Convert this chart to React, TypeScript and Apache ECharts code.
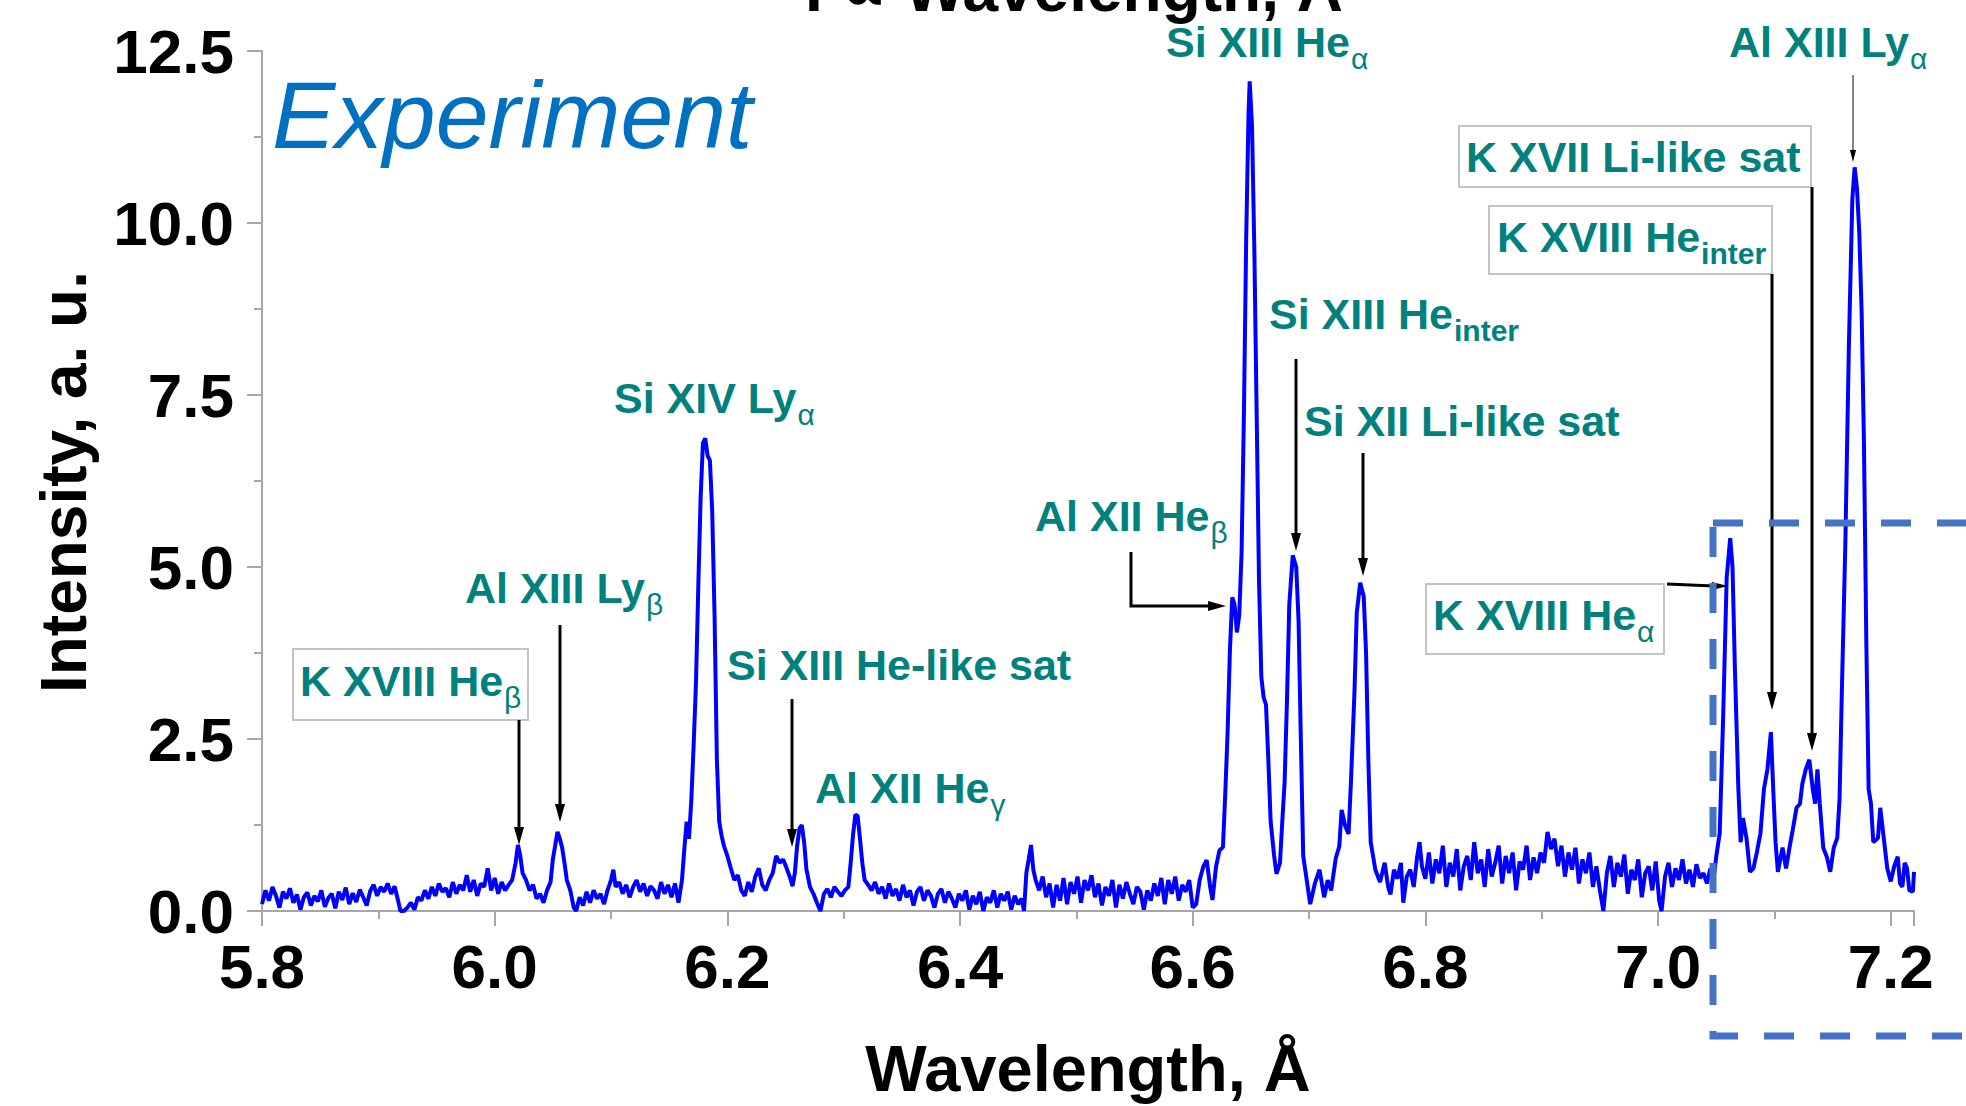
import React, { useEffect, useRef } from "react";
import * as echarts from "echarts";

// ---------- DATA (wavelength Å, intensity a.u.) ----------
const specKBeta: [number, number][] = [
  [5.8, 0.1], [5.803, 0.3], [5.806, 0.15], [5.809, 0.35], [5.812, 0.22], [5.815, 0.05], [5.818, 0.28], [5.821, 0.18],
  [5.824, 0.33], [5.827, 0.12], [5.83, 0.24], [5.833, 0.02], [5.836, 0.2], [5.839, 0.27], [5.842, 0.08], [5.845, 0.22],
  [5.848, 0.14], [5.851, 0.3], [5.854, 0.06], [5.857, 0.19], [5.86, 0.25], [5.863, 0.04], [5.866, 0.28], [5.869, 0.16],
  [5.872, 0.34], [5.875, 0.1], [5.878, 0.26], [5.881, 0.13], [5.884, 0.31], [5.887, 0.2], [5.89, 0.08], [5.893, 0.29],
  [5.896, 0.38], [5.899, 0.22], [5.902, 0.35], [5.905, 0.28], [5.908, 0.4], [5.911, 0.25], [5.914, 0.36], [5.917, 0.15],
  [5.919, 0.0], [5.922, 0.0], [5.925, 0.05], [5.928, 0.12], [5.931, 0.02], [5.934, 0.2], [5.937, 0.15], [5.94, 0.3],
  [5.943, 0.18], [5.946, 0.35], [5.949, 0.22], [5.952, 0.4], [5.955, 0.28], [5.958, 0.33], [5.961, 0.2], [5.964, 0.42],
  [5.967, 0.25], [5.97, 0.38], [5.973, 0.3], [5.976, 0.52], [5.979, 0.28], [5.982, 0.45], [5.985, 0.22], [5.988, 0.4],
  [5.991, 0.35], [5.994, 0.62], [5.997, 0.3], [6.0, 0.48], [6.003, 0.25], [6.006, 0.42], [6.009, 0.3], [6.012, 0.38],
  [6.015, 0.45], [6.018, 0.7], [6.02, 0.96], [6.022, 0.8], [6.024, 0.55], [6.027, 0.45], [6.03, 0.3], [6.033, 0.38],
  [6.036, 0.18], [6.039, 0.25], [6.042, 0.12], [6.045, 0.3], [6.048, 0.42], [6.05, 0.75], [6.052, 0.95], [6.054, 1.15],
  [6.056, 1.05], [6.058, 0.92], [6.06, 0.7], [6.062, 0.45], [6.065, 0.3], [6.068, 0.05], [6.07, 0.0], [6.073, 0.2],
  [6.076, 0.08], [6.079, 0.28], [6.082, 0.12], [6.085, 0.3], [6.088, 0.18], [6.091, 0.25], [6.094, 0.1], [6.097, 0.3],
  [6.1, 0.45], [6.102, 0.6], [6.104, 0.35], [6.107, 0.42], [6.11, 0.25], [6.113, 0.38], [6.116, 0.2], [6.119, 0.35],
  [6.122, 0.45], [6.125, 0.28], [6.128, 0.4], [6.131, 0.22], [6.134, 0.36], [6.137, 0.3], [6.14, 0.18], [6.143, 0.42],
  [6.146, 0.25], [6.149, 0.38], [6.152, 0.2], [6.155, 0.4], [6.158, 0.12],
];

const specSiLy: [number, number][] = [
  [6.161, 0.45], [6.163, 0.9], [6.165, 1.3], [6.167, 1.05], [6.169, 1.6], [6.171, 2.4], [6.173, 3.3], [6.175, 4.7],
  [6.177, 6.0], [6.179, 6.8], [6.181, 6.87], [6.183, 6.62], [6.185, 6.55], [6.187, 5.8], [6.189, 4.3], [6.191, 2.2],
  [6.193, 1.3], [6.195, 1.1], [6.197, 0.95], [6.2, 0.8], [6.203, 0.62], [6.206, 0.45], [6.209, 0.52], [6.212, 0.3],
  [6.215, 0.22], [6.218, 0.42], [6.221, 0.28], [6.224, 0.5], [6.227, 0.62], [6.23, 0.38], [6.233, 0.3], [6.236, 0.45],
  [6.239, 0.55], [6.242, 0.8], [6.245, 0.7], [6.248, 0.75], [6.251, 0.62], [6.254, 0.48], [6.256, 0.36], [6.258, 0.55],
  [6.26, 0.95], [6.262, 1.2], [6.264, 1.25], [6.266, 1.0], [6.268, 0.6], [6.271, 0.35], [6.274, 0.25], [6.277, 0.12],
  [6.28, 0.0], [6.283, 0.25], [6.286, 0.32], [6.289, 0.2], [6.292, 0.35], [6.295, 0.28], [6.298, 0.22], [6.301, 0.3],
  [6.304, 0.35], [6.306, 0.7], [6.308, 1.1], [6.31, 1.4], [6.312, 1.38], [6.314, 1.05], [6.316, 0.7], [6.318, 0.45],
  [6.321, 0.38], [6.324, 0.3], [6.327, 0.42], [6.33, 0.25], [6.333, 0.35], [6.336, 0.18], [6.339, 0.4], [6.342, 0.22],
  [6.345, 0.32], [6.348, 0.15], [6.351, 0.38], [6.354, 0.2], [6.357, 0.3], [6.36, 0.08], [6.363, 0.28], [6.366, 0.35],
  [6.369, 0.15], [6.372, 0.3], [6.375, 0.22], [6.378, 0.05], [6.381, 0.25], [6.384, 0.32], [6.387, 0.12], [6.39, 0.28],
  [6.393, 0.18], [6.396, 0.05], [6.399, 0.25], [6.402, 0.15], [6.405, 0.3], [6.408, 0.02], [6.411, 0.22], [6.414, 0.1],
  [6.417, 0.28], [6.42, 0.0], [6.423, 0.2], [6.426, 0.12], [6.429, 0.3], [6.432, 0.05], [6.435, 0.25], [6.438, 0.15],
  [6.441, 0.28], [6.444, 0.02], [6.447, 0.22], [6.45, 0.1], [6.453, 0.18], [6.455, 0.0],
];

const specSiHe: [number, number][] = [
  [6.457, 0.55], [6.459, 0.75], [6.461, 0.96], [6.463, 0.6], [6.465, 0.45], [6.468, 0.3], [6.471, 0.5], [6.474, 0.2],
  [6.477, 0.4], [6.48, 0.05], [6.483, 0.38], [6.486, 0.15], [6.489, 0.48], [6.492, 0.1], [6.495, 0.42], [6.498, 0.25],
  [6.501, 0.5], [6.504, 0.12], [6.507, 0.45], [6.51, 0.3], [6.513, 0.52], [6.516, 0.2], [6.519, 0.4], [6.522, 0.08],
  [6.525, 0.35], [6.528, 0.22], [6.531, 0.45], [6.534, 0.05], [6.537, 0.38], [6.54, 0.18], [6.543, 0.42], [6.546, 0.25],
  [6.549, 0.1], [6.552, 0.35], [6.555, 0.28], [6.558, 0.02], [6.561, 0.3], [6.564, 0.15], [6.567, 0.4], [6.57, 0.22],
  [6.573, 0.48], [6.576, 0.1], [6.579, 0.45], [6.582, 0.25], [6.585, 0.5], [6.588, 0.15], [6.591, 0.38], [6.594, 0.28],
  [6.597, 0.45], [6.6, 0.05], [6.603, 0.1], [6.606, 0.45], [6.609, 0.64], [6.612, 0.74], [6.615, 0.35], [6.617, 0.16],
  [6.62, 0.64], [6.623, 0.88], [6.626, 0.93], [6.628, 1.71], [6.63, 2.6], [6.632, 3.8], [6.634, 4.56], [6.636, 4.45],
  [6.638, 4.05], [6.64, 4.3], [6.642, 5.2], [6.644, 7.2], [6.646, 9.8], [6.648, 11.6], [6.649, 12.06], [6.651, 11.4],
  [6.653, 9.6], [6.655, 7.2], [6.657, 4.8], [6.659, 3.4], [6.661, 3.1], [6.663, 3.0], [6.665, 2.2], [6.667, 1.3],
  [6.67, 0.8], [6.672, 0.54], [6.675, 0.7], [6.677, 1.3], [6.679, 1.87], [6.681, 3.04], [6.683, 4.45], [6.686, 5.17],
  [6.689, 5.0], [6.691, 4.22], [6.693, 2.45], [6.695, 0.8], [6.698, 0.45], [6.701, 0.1], [6.705, 0.4], [6.709, 0.6],
  [6.713, 0.2], [6.716, 0.45], [6.719, 0.3], [6.723, 0.77], [6.726, 0.94], [6.728, 1.47], [6.731, 1.24], [6.734, 1.12],
  [6.736, 1.87], [6.739, 3.16], [6.741, 4.33], [6.744, 4.77], [6.747, 4.57], [6.749, 3.76], [6.751, 2.18], [6.753, 1.0],
  [6.757, 0.6],
];

const specMid: [number, number][] = [
  [6.761, 0.42], [6.765, 0.7], [6.768, 0.35], [6.77, 0.24], [6.773, 0.6], [6.776, 0.47], [6.779, 0.7], [6.781, 0.12],
  [6.784, 0.5], [6.787, 0.6], [6.79, 0.35], [6.793, 0.8], [6.795, 1.0], [6.797, 0.65], [6.8, 0.47], [6.803, 0.85],
  [6.806, 0.4], [6.809, 0.75], [6.812, 0.55], [6.815, 0.95], [6.818, 0.35], [6.821, 0.7], [6.824, 0.5], [6.827, 0.9],
  [6.83, 0.3], [6.833, 0.65], [6.836, 0.8], [6.839, 0.45], [6.842, 1.0], [6.845, 0.55], [6.848, 0.75], [6.851, 0.35],
  [6.854, 0.9], [6.857, 0.5], [6.86, 0.7], [6.863, 0.95], [6.866, 0.4], [6.869, 0.8], [6.872, 0.55], [6.875, 0.85],
  [6.878, 0.3], [6.881, 0.72], [6.884, 0.6], [6.887, 0.95], [6.89, 0.45], [6.893, 0.78], [6.896, 0.55], [6.899, 0.85],
  [6.902, 0.7], [6.905, 1.15], [6.908, 0.9], [6.911, 1.05], [6.914, 0.65], [6.917, 0.95], [6.92, 0.5], [6.923, 0.85],
  [6.926, 0.6], [6.929, 0.92], [6.932, 0.4], [6.935, 0.75], [6.938, 0.55], [6.941, 0.85], [6.944, 0.35], [6.947, 0.65],
  [6.95, 0.3], [6.953, 0.0], [6.956, 0.55], [6.959, 0.8], [6.962, 0.35], [6.965, 0.7], [6.968, 0.5], [6.971, 0.82],
  [6.974, 0.25], [6.977, 0.6], [6.98, 0.45], [6.983, 0.75], [6.986, 0.2], [6.989, 0.55], [6.992, 0.65], [6.995, 0.3],
  [6.998, 0.72], [7.001, 0.15], [7.003, 0.0], [7.006, 0.5], [7.009, 0.7], [7.012, 0.35], [7.015, 0.62], [7.018, 0.45],
  [7.021, 0.75], [7.024, 0.4], [7.027, 0.6], [7.03, 0.35], [7.033, 0.68], [7.036, 0.48], [7.039, 0.55], [7.042, 0.4],
  [7.045, 0.62], [7.048, 0.5],
];

const specK: [number, number][] = [
  [7.05, 0.79], [7.053, 1.13], [7.056, 2.85], [7.059, 4.85], [7.062, 5.42], [7.064, 5.0], [7.066, 3.56], [7.069, 1.79],
  [7.071, 1.0], [7.073, 1.35], [7.076, 1.06], [7.079, 0.57], [7.082, 0.62], [7.085, 0.86], [7.088, 1.13], [7.091, 1.77],
  [7.094, 2.06], [7.097, 2.6], [7.099, 1.77], [7.101, 1.0], [7.103, 0.57], [7.107, 0.92], [7.11, 0.62], [7.113, 0.92],
  [7.116, 1.2], [7.119, 1.5], [7.122, 1.56], [7.124, 1.85], [7.127, 2.06], [7.13, 2.2], [7.133, 1.77], [7.135, 1.56],
  [7.137, 2.06], [7.139, 1.56], [7.142, 0.92], [7.145, 0.79], [7.148, 0.57], [7.151, 0.92], [7.154, 1.06], [7.156, 1.63],
  [7.158, 3.2], [7.161, 5.35], [7.164, 8.2], [7.167, 10.35], [7.169, 10.81], [7.171, 10.5], [7.173, 9.85], [7.175, 8.7],
  [7.177, 6.78], [7.179, 3.92], [7.181, 1.77], [7.183, 1.56], [7.185, 1.0], [7.189, 1.06], [7.191, 1.5], [7.194, 1.06],
  [7.197, 0.62], [7.2, 0.43], [7.203, 0.65], [7.206, 0.79], [7.208, 0.4], [7.21, 0.35], [7.212, 0.7], [7.214, 0.62],
  [7.216, 0.3], [7.219, 0.28], [7.22, 0.57],
];

const spectrum = [...specKBeta, ...specSiLy, ...specSiHe, ...specMid, ...specK];

// ---------- TEXTS ----------
const titleText = "I \u221D Wavelength, \u00C5";
const xTitle = "Wavelength, \u00C5";
const yTitle = "Intensity, a. u.";
const insetText = "Experiment";

type Label = { main: string; sub?: string; subBold?: boolean; x: number; base: number; box?: [number, number, number, number] };

const labels: Label[] = [
  { main: "Si XIII He", sub: "\u03B1", x: 1166, base: 57 },
  { main: "Al XIII Ly", sub: "\u03B1", x: 1729, base: 57 },
  { main: "K XVII Li-like sat", x: 1466, base: 172, box: [1459, 126, 352, 61] },
  { main: "K XVIII He", sub: "inter", subBold: true, x: 1497, base: 252, box: [1489, 206, 283, 68] },
  { main: "Si XIII He", sub: "inter", subBold: true, x: 1269, base: 329 },
  { main: "Si XII Li-like sat", x: 1304, base: 436 },
  { main: "Al XII He", sub: "\u03B2", x: 1035, base: 531 },
  { main: "K XVIII He", sub: "\u03B1", x: 1433, base: 630, box: [1426, 584, 238, 70] },
  { main: "K XVIII He", sub: "\u03B2", x: 300, base: 696, box: [293, 649, 235, 71] },
  { main: "Al XIII Ly", sub: "\u03B2", x: 465, base: 603 },
  { main: "Si XIII He-like sat", x: 727, base: 680 },
  { main: "Al XII He", sub: "\u03B3", x: 815, base: 803 },
  { main: "Si XIV Ly", sub: "\u03B1", x: 614, base: 413 },
];

// vertical arrows: [x, yStart, yTip]
const vArrows: [number, number, number][] = [
  [519, 720, 845], [560, 625, 822], [792, 699, 847], [1296, 359, 551],
  [1363, 453, 576], [1772, 274, 710], [1812, 187, 751],
];

const FONT = '"Liberation Sans", Arial, Helvetica, sans-serif';
const TEAL = "#00817E";
const C = 0.3465; // central-baseline offset factor

let measureCtx: CanvasRenderingContext2D | null = null;
function textWidth(t: string, font: string) {
  if (!measureCtx) measureCtx = document.createElement("canvas").getContext("2d");
  measureCtx!.font = font;
  return measureCtx!.measureText(t).width;
}

function txt(text: string, x: number, y: number, size: number, opts: any = {}) {
  return {
    type: "text",
    x,
    y,
    rotation: opts.rotation || 0,
    z: 100,
    style: {
      text,
      fill: opts.fill || "#000",
      fontSize: size,
      fontWeight: opts.weight || "bold",
      fontStyle: opts.italic ? "italic" : "normal",
      fontFamily: FONT,
      align: opts.align || "left",
      textAlign: opts.align || "left",
      verticalAlign: "middle",
      textVerticalAlign: "middle",
    },
  };
}

function buildGraphics() {
  const g: any[] = [];
  const MS = 43;
  const SS = 30;
  for (const l of labels) {
    if (l.box) {
      g.push({
        type: "rect", z: 90,
        shape: { x: l.box[0], y: l.box[1], width: l.box[2], height: l.box[3] },
        style: { fill: "#fff", stroke: "#c4c4c4", lineWidth: 2 },
      });
    }
    g.push(txt(l.main, l.x, l.base - C * MS, MS, { fill: TEAL }));
    if (l.sub) {
      const w = textWidth(l.main, `bold ${MS}px ${FONT}`);
      g.push(txt(l.sub, l.x + w + 1, l.base + 12 - C * SS, SS, { fill: TEAL, weight: l.subBold ? "bold" : "normal" }));
    }
  }
  const head = (tip: [number, number], dir: "down" | "right", len = 18, hw = 5) => {
    const [x, y] = tip;
    const pts = dir === "down"
      ? [[x - hw, y - len], [x + hw, y - len], [x, y]]
      : [[x - len, y - hw], [x - len, y + hw], [x, y]];
    return { type: "polygon", z: 95, shape: { points: pts }, style: { fill: "#000" } };
  };
  for (const [x, y1, y2] of vArrows) {
    g.push({ type: "line", z: 95, shape: { x1: x, y1, x2: x, y2: y2 - 14 }, style: { stroke: "#000", lineWidth: 3 } });
    g.push(head([x, y2], "down"));
  }
  // thin arrow for Al XIII Ly alpha
  g.push({ type: "line", z: 95, shape: { x1: 1853, y1: 75, x2: 1853, y2: 152 }, style: { stroke: "#333", lineWidth: 1.2 } });
  g.push(head([1853, 162], "down", 12, 3));
  // elbow arrow Al XII He beta
  g.push({ type: "polyline", z: 95, shape: { points: [[1131, 552], [1131, 606], [1212, 606]] }, style: { stroke: "#000", lineWidth: 3, fill: null } });
  g.push(head([1226, 606], "right"));
  // K XVIII He alpha arrow
  g.push({ type: "line", z: 95, shape: { x1: 1667, y1: 584, x2: 1714, y2: 586 }, style: { stroke: "#000", lineWidth: 3 } });
  g.push(head([1728, 586], "right", 16, 4));
  // dashed highlight rectangle
  g.push({
    type: "rect", z: 96,
    shape: { x: 1713, y: 523, width: 400, height: 513 },
    style: { fill: null, stroke: "#4472C4", lineWidth: 7, lineDash: [30, 26] },
  });
  // texts
  g.push(txt(insetText, 272, 148 - C * 95, 95, { fill: "#0070C0", weight: "normal", italic: true }));
  g.push(txt(titleText, 1074, 11 - C * 64, 64, { align: "center" }));
  g.push(txt(xTitle, 1088, 1091 - C * 65, 65, { align: "center" }));
  g.push(txt(yTitle, 64, 482, 64, { align: "center", rotation: Math.PI / 2 }));
  return g;
}

export default function App() {
  const ref = useRef<HTMLDivElement>(null);
  useEffect(() => {
    if (!ref.current) return;
    const chart = echarts.init(ref.current, null, { renderer: "svg" });
    const axisGray = "#a6a6a6";
    chart.setOption({
      animation: false,
      backgroundColor: "#fff",
      grid: { left: 262, right: 52, top: 51, bottom: 195, containLabel: false },
      xAxis: {
        type: "value",
        min: 5.8,
        max: 7.22,
        interval: 0.2,
        axisLine: { show: true, lineStyle: { color: axisGray, width: 2 } },
        axisTick: { show: true, inside: false, length: 15, lineStyle: { color: axisGray, width: 2 } },
        minorTick: { show: true, splitNumber: 2, length: 8, lineStyle: { color: axisGray, width: 2 } },
        splitLine: { show: false },
        axisLabel: {
          margin: 24,
          fontSize: 62,
          fontWeight: "bold",
          fontFamily: FONT,
          color: "#000",
          showMaxLabel: false,
          formatter: (v: number) => (Math.abs(v / 0.2 - Math.round(v / 0.2)) < 1e-6 ? v.toFixed(1) : ""),
        },
      },
      yAxis: {
        type: "value",
        min: 0,
        max: 12.5,
        interval: 2.5,
        axisLine: { show: true, lineStyle: { color: axisGray, width: 2 } },
        axisTick: { show: true, inside: false, length: 15, lineStyle: { color: axisGray, width: 2 } },
        minorTick: { show: true, splitNumber: 2, length: 8, lineStyle: { color: axisGray, width: 2 } },
        splitLine: { show: false },
        axisLabel: {
          margin: 28,
          fontSize: 62,
          fontWeight: "bold",
          fontFamily: FONT,
          color: "#000",
          formatter: (v: number) => v.toFixed(1),
        },
      },
      series: [
        {
          type: "line",
          data: spectrum,
          showSymbol: false,
          symbol: "none",
          lineStyle: { color: "#0000FF", width: 4 },
          clip: false,
          z: 10,
        },
      ],
      graphic: buildGraphics(),
    });
    return () => chart.dispose();
  }, []);
  return (
    <div
      ref={ref}
      style={{ position: "fixed", left: 0, top: 0, width: 1966, height: 1106, background: "#fff" }}
    />
  );
}
